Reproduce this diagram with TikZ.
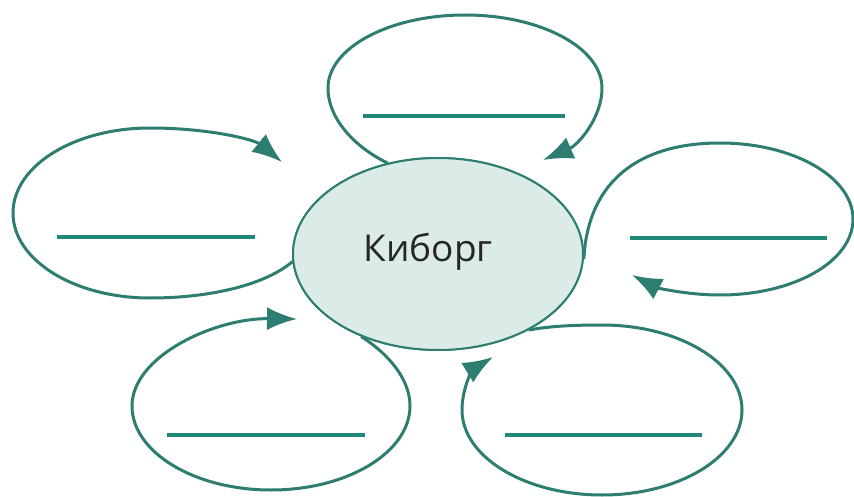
\documentclass[tikz,border=0pt]{standalone}
\usepackage{fontspec}
\setmainfont{Open Sans}
\usetikzlibrary{shapes.geometric,arrows.meta}
\definecolor{tealline}{RGB}{32,136,118}
\definecolor{tealdark}{RGB}{45,125,112}
\definecolor{centerfill}{RGB}{218,235,232}
\tikzset{
  loopline/.style={draw=tealdark,line width=3pt,-{Latex[length=30pt,width=23pt]}},
  blankline/.style={draw=tealline,line width=3.5pt},
  centre/.style={ellipse,draw=tealdark,line width=2pt,fill=centerfill,
                 minimum width=290pt,minimum height=192pt,inner sep=0pt},
  label/.style={font=\fontsize{37}{42}\selectfont,inner sep=0pt,text=black!85}
}
\begin{document}
\begin{tikzpicture}[x=1pt,y=-1pt]
\useasboundingbox (0,0) rectangle (854,497);
\node[centre] (c) at (438,254) {};
\coordinate (t1) at (543,160);
\coordinate (t2) at (282,162);
\coordinate (t3) at (632,275);
\coordinate (t4) at (297,319);
\coordinate (t5) at (493,357);
% top loop
\draw[loopline] (c.119) .. controls (360,150) and (328,122) .. (328,88)
  .. controls (328,48) and (389,15) .. (465,15)
  .. controls (541,15) and (602,48) .. (602,88)
  .. controls (602,118) and (578,145) .. (t1);
% left loop
\draw[loopline] (c.183) .. controls (265,285) and (210,298) .. (150,298)
  .. controls (74,298) and (13,260) .. (13,213)
  .. controls (13,166) and (74,128) .. (150,128)
  .. controls (210,128) and (255,140) .. (t2);
% right loop
\draw[loopline] (c.-2) .. controls (588,180) and (640,143) .. (720,143)
  .. controls (793,143) and (853,177) .. (853,219)
  .. controls (853,262) and (793,295) .. (720,295)
  .. controls (685,295) and (655,287) .. (t3);
% bottom-left loop
\draw[loopline] (c.227) .. controls (390,355) and (410,380) .. (410,406)
  .. controls (410,452) and (348,490) .. (271,490)
  .. controls (194,490) and (132,452) .. (132,406)
  .. controls (132,356) and (215,318) .. (t4);
% bottom-right loop
\draw[loopline] (c.-40) .. controls (550,326) and (575,325) .. (602,325)
  .. controls (679,325) and (742,363) .. (742,410)
  .. controls (742,457) and (679,495) .. (602,495)
  .. controls (525,495) and (462,457) .. (462,410)
  .. controls (462,385) and (475,368) .. (t5);
\node[centre] (c2) at (c.center) {};
\node[label] (txt) at (428,252) {Киборг};
% blank lines
\draw[blankline] (363,116) -- (565,116);
\draw[blankline] (57,237) -- (255,237);
\draw[blankline] (630,238) -- (827,238);
\draw[blankline] (167,435) -- (365,435);
\draw[blankline] (505,435) -- (702,435);
\end{tikzpicture}
\end{document}
